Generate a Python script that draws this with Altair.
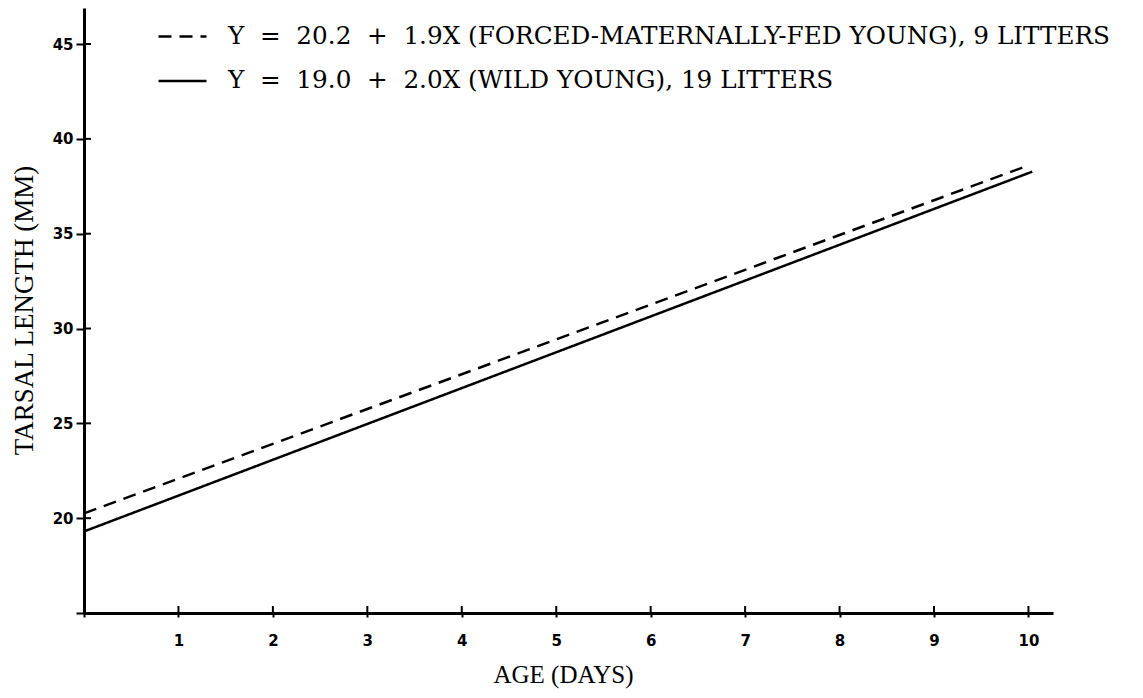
import altair as alt
import pandas as pd

# Series
forced_days = [0, 10.0]
forced_len = [20.25, 38.6]
wild_days = [0, 10.04]
wild_len = [19.3, 38.27]

NB = "\u00a0"
label_forced = f"Y{NB}{NB}={NB}{NB}20.2{NB}{NB}+{NB}{NB}1.9X (FORCED-MATERNALLY-FED YOUNG), 9 LITTERS"
label_wild = f"Y{NB}{NB}={NB}{NB}19.0{NB}{NB}+{NB}{NB}2.0X (WILD YOUNG), 19 LITTERS"
series_labels = [label_forced, label_wild]

x_ticks = list(range(0, 11))
y_ticks = [15, 20, 25, 30, 35, 40, 45]

rows = []
for d, v in zip(forced_days, forced_len):
    rows.append({"age": d, "len": v, "series": label_forced})
for d, v in zip(wild_days, wild_len):
    rows.append({"age": d, "len": v, "series": label_wild})
df = pd.DataFrame(rows)

W, H = 969, 605
xs = alt.Scale(domain=[0, 10.26], nice=False, zero=False)
ys = alt.Scale(domain=[15, 46.9], nice=False, zero=False)

lines = alt.Chart(df).mark_line(strokeWidth=2.5, color="black").encode(
    x=alt.X("age:Q", scale=xs,
            axis=alt.Axis(values=x_ticks, title="AGE (DAYS)",
                          labelExpr="datum.value == 0 ? '' : format(datum.value, 'd')",
                          grid=False, domainWidth=3, domainColor="black",
                          tickColor="black", tickWidth=2, tickSize=4,
                          labelFont="DejaVu Sans", labelFontWeight="bold",
                          labelFontSize=15, labelColor="black", labelPadding=16,
                          titleFont="Liberation Serif", titleFontWeight="normal",
                          titleFontSize=25, titleColor="black",
                          titleX=479, titleY=61, titleBaseline="middle")),
    y=alt.Y("len:Q", scale=ys,
            axis=alt.Axis(values=y_ticks, title="TARSAL LENGTH (MM)",
                          labelExpr="datum.value == 15 ? '' : format(datum.value, 'd')",
                          grid=False, domainWidth=3, domainColor="black",
                          tickColor="black", tickWidth=2, tickSize=8,
                          labelFont="DejaVu Sans", labelFontWeight="bold",
                          labelFontSize=15, labelColor="black", labelPadding=3,
                          titleFont="Liberation Serif", titleFontWeight="normal",
                          titleFontSize=27, titleColor="black",
                          titleX=-60, titleY=302, titleBaseline="middle",
                          titleAngle=270)),
    strokeDash=alt.StrokeDash(
        "series:N",
        scale=alt.Scale(domain=series_labels, range=[[13, 8], [1, 0]]),
        sort=series_labels,
        legend=alt.Legend(title=None, orient="none", legendX=73, legendY=3,
                          symbolType="stroke", symbolSize=2304,
                          symbolStrokeWidth=2.5, symbolStrokeColor="black",
                          labelFont="DejaVu Serif", labelFontSize=24.7,
                          labelColor="black", labelLimit=0, labelOffset=20,
                          rowPadding=6.5),
    ),
)

xt = pd.DataFrame({"t": x_ticks})
yt = pd.DataFrame({"t": y_ticks})
x_in = alt.Chart(xt).mark_rule(color="black", strokeWidth=2).encode(
    x=alt.X("t:Q", scale=xs), y=alt.value(H - 7), y2=alt.value(H))
y_in = alt.Chart(yt).mark_rule(color="black", strokeWidth=2).encode(
    y=alt.Y("t:Q", scale=ys), x=alt.value(0), x2=alt.value(7))

chart = alt.layer(lines, x_in, y_in).properties(
    width=W, height=H,
    background="white",
    autosize=alt.AutoSizeParams(type="none"),
    padding={"left": 76, "top": 0, "right": 80, "bottom": 77},
).configure_view(strokeWidth=0, stroke="transparent")

chart.save("out.html", embed_options={"renderer": "svg", "actions": False})
